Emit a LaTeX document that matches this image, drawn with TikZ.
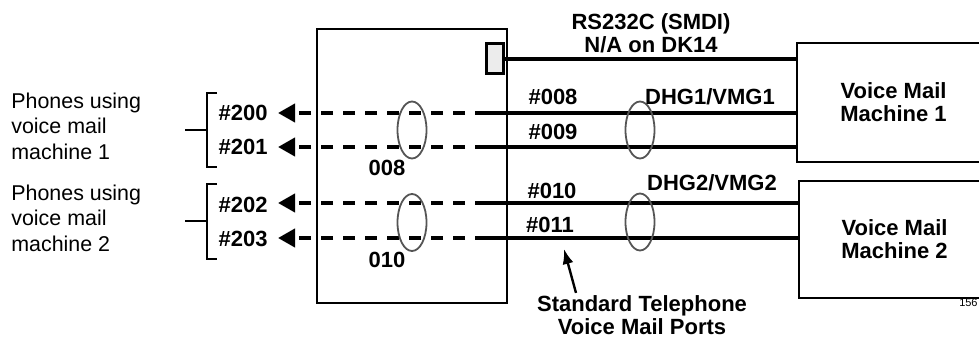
\documentclass[tikz,border=0pt]{standalone}
\usepackage{fontspec}
\setmainfont{Liberation Sans}
\usetikzlibrary{calc,arrows.meta,positioning,shapes}
\definecolor{ringgray}{RGB}{85,85,85}
\definecolor{portfill}{RGB}{236,236,236}
\newcommand\lblfont{\fontsize{11}{11.6}\selectfont\bfseries}

\begin{document}
\begin{tikzpicture}[x=0.5pt,y=-0.5pt,
    box/.style={draw,line width=1.3pt,inner sep=0pt,font=\lblfont,align=center},
    port/.style={draw,line width=1.6pt,fill=portfill,minimum width=8.5pt,minimum height=15pt,inner sep=0pt},
    ring/.style={ellipse,draw=ringgray,line width=0.9pt,minimum width=14.5pt,minimum height=28.5pt,inner sep=0pt},
    lbl/.style={font=\lblfont,inner sep=0pt,align=center},
    note/.style={font=\fontsize{10.7}{12.8}\selectfont,align=left,inner sep=0pt},
    ln/.style={line width=2pt},
    dl/.style={line width=2pt,dash pattern=on 6pt off 5pt,-{Triangle[length=8.5pt,width=9pt]}},
    br/.style={line width=1pt}]
   \useasboundingbox (0,0) rectangle (979,337);
   % boxes
   \node[box,minimum width=95pt,minimum height=137pt]   (pbx) at (412,166)     {};
   \node[port]                                          (prt) at (495,58.5)    {};
   \node[box,minimum width=96.5pt,minimum height=59.5pt] (vm1) at (893.5,102.5) {Voice Mail\\Machine 1};
   \node[box,minimum width=95.5pt,minimum height=58.5pt] (vm2) at (894.5,239.5) {Voice Mail\\Machine 2};
   % ports
   \coordinate (j8)  at (487,113);
   \coordinate (j9)  at (487,147);
   \coordinate (j10) at (487,203);
   \coordinate (j11) at (487,238);
   \node[lbl,anchor=east] (p200) at (268,113) {\#200};
   \node[lbl,anchor=east] (p201) at (268,147) {\#201};
   \node[lbl,anchor=east] (p202) at (268,205) {\#202};
   \node[lbl,anchor=east] (p203) at (268,239) {\#203};
   \draw[dl] (j8)  -- ([xshift=5pt]p200.east |- j8);
   \draw[dl] (j9)  -- ([xshift=5pt]p201.east |- j9);
   \draw[dl] (j10) -- ([xshift=5pt]p202.east |- j10);
   \draw[dl] (j11) -- ([xshift=5pt]p203.east |- j11);
   \draw[ln] (j8)  -- (j8 -| vm1.west);
   \draw[ln] (j9)  -- (j9 -| vm1.west);
   \draw[ln] (j10) -- (j10 -| vm2.west);
   \draw[ln] (j11) -- (j11 -| vm2.west);
   \draw[ln] (prt.east) -- (prt.east -| vm1.west);
   % rings
   \node[ring] (r1) at (412,130)   {};
   \node[ring] (r2) at (412,222.5) {};
   \node[ring] (r3) at (640,130)   {};
   \node[ring] (r4) at (640,222)   {};
   % labels
   \node[lbl] (rs)   at (651,33.5) {RS232C (SMDI)\\N/A on DK14};
   \node[lbl] (t008) at (553,97)   {\#008};
   \node[lbl] (t009) at (553,132)  {\#009};
   \node[lbl] (t010) at (552,191)  {\#010};
   \node[lbl] (t011) at (550,225)  {\#011};
   \node[lbl] (g1)   at (710,97)   {DHG1/VMG1};
   \node[lbl] (g2)   at (712,183)  {DHG2/VMG2};
   \node[lbl] (c008) at (387,168)  {008};
   \node[lbl] (c010) at (387,260)  {010};
   \node[lbl] (stp)  at (642,315)  {Standard Telephone\\Voice Mail Ports};
   \coordinate (st1) at (564,249);
   \draw[line width=1.2pt,-{Latex[length=7.5pt,width=5.5pt]}] ($(stp.north)+(-66,-2)$) -- (st1);
   % phones
   \node[note,anchor=west] (n1) at (11,126) {Phones using\\voice mail\\machine 1};
   \node[note,anchor=west] (n2) at (11,218) {Phones using\\voice mail\\machine 2};
   \draw[br] (217,93) -- (207,93) -- (207,167) -- (217,167);
   \draw[br] (185,130) -- (207,130);
   \draw[br] (217,184) -- (207,184) -- (207,259) -- (217,259);
   \draw[br] (185,221) -- (207,221);
   \node[font=\fontsize{5.5}{6}\selectfont,anchor=east,inner sep=0pt] (fig) at (978,303) {156};
  \end{tikzpicture}
\end{document}
